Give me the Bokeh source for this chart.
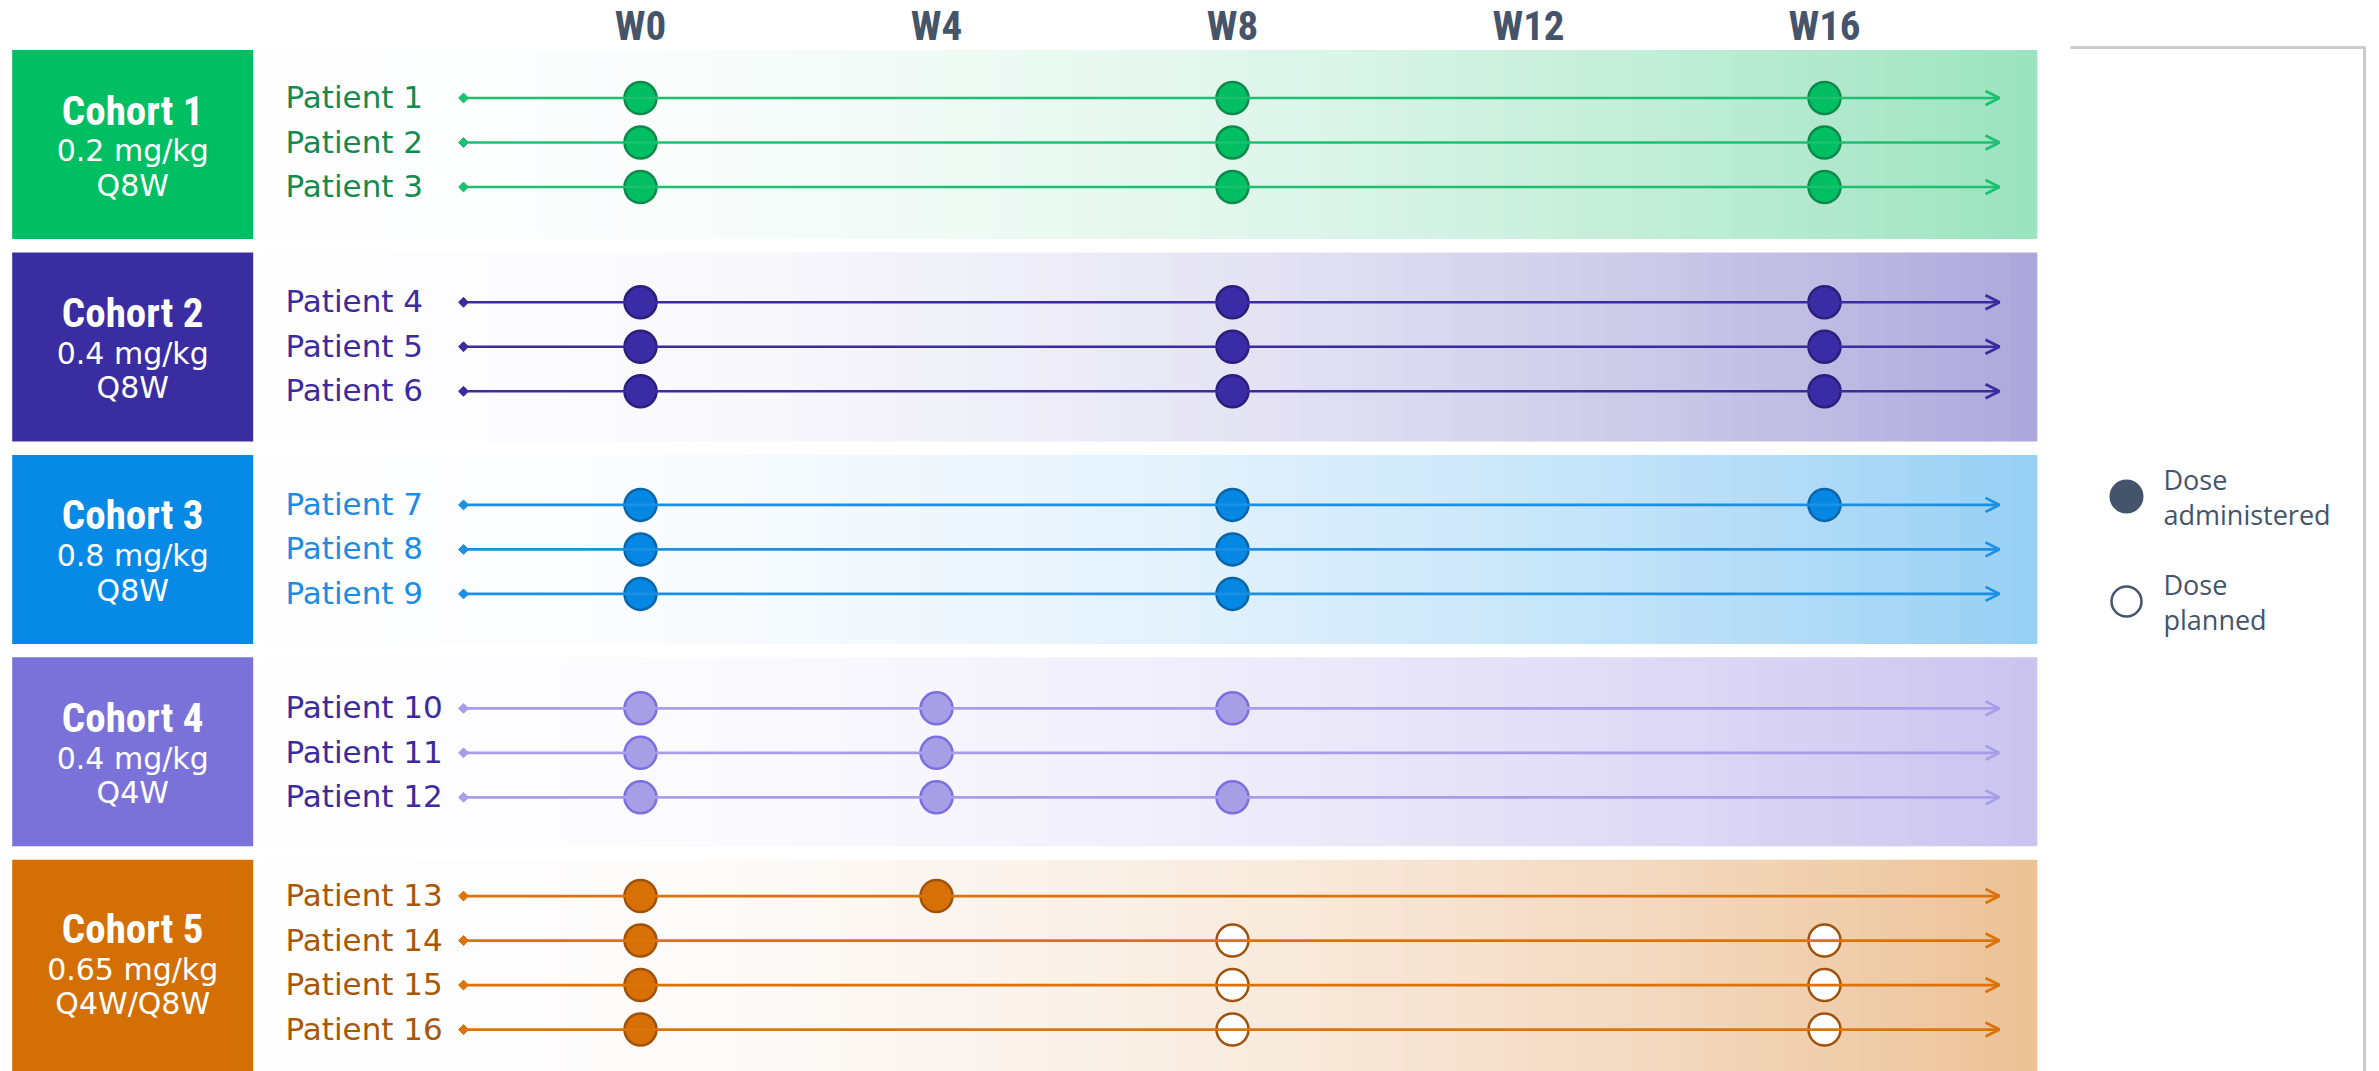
import numpy as np
from bokeh.plotting import figure
from bokeh.models import Range1d, ColumnDataSource, Arrow, OpenHead
from bokeh.core.properties import value
from bokeh.embed import file_html
from bokeh.resources import INLINE

# ------------------------------------------------------------------ data
week_ticks = [0, 4, 8, 12, 16]
week_labels = ["W0", "W4", "W8", "W12", "W16"]

cohort_names = ["Cohort 1", "Cohort 2", "Cohort 3", "Cohort 4", "Cohort 5"]
cohort_doses = ["0.2 mg/kg", "0.4 mg/kg", "0.8 mg/kg", "0.4 mg/kg", "0.65 mg/kg"]
cohort_schedules = ["Q8W", "Q8W", "Q8W", "Q4W", "Q4W/Q8W"]

cohort_patients = [
    ["Patient 1", "Patient 2", "Patient 3"],
    ["Patient 4", "Patient 5", "Patient 6"],
    ["Patient 7", "Patient 8", "Patient 9"],
    ["Patient 10", "Patient 11", "Patient 12"],
    ["Patient 13", "Patient 14", "Patient 15", "Patient 16"],
]

# weeks at which a dose was administered
doses_administered = {
    "Patient 1": [0, 8, 16], "Patient 2": [0, 8, 16], "Patient 3": [0, 8, 16],
    "Patient 4": [0, 8, 16], "Patient 5": [0, 8, 16], "Patient 6": [0, 8, 16],
    "Patient 7": [0, 8, 16], "Patient 8": [0, 8], "Patient 9": [0, 8],
    "Patient 10": [0, 4, 8], "Patient 11": [0, 4], "Patient 12": [0, 4, 8],
    "Patient 13": [0, 4], "Patient 14": [0], "Patient 15": [0], "Patient 16": [0],
}
# weeks at which a dose is planned
doses_planned = {
    "Patient 14": [8, 16], "Patient 15": [8, 16], "Patient 16": [8, 16],
}

legend_lines = [["Dose", "administered"], ["Dose", "planned"]]

# ------------------------------------------------------------------ styles
box_colors = ["#00bf63", "#3a2da2", "#078ae6", "#7b72d9", "#d46f06"]
label_colors = ["#138a50", "#3a2ca0", "#1a8ce3", "#3a2ca0", "#a65708"]
line_colors = ["#1dc070", "#3a2ca0", "#1a8fe3", "#a79ee9", "#db7309"]
dot_fill = ["#00bf63", "#3a2ca6", "#0588e4", "#a79fe6", "#d77007"]
dot_line = ["#0d8a4a", "#2a1f7a", "#0a65a8", "#7a6fe0", "#a0520a"]
panel_end = ["#9be3bf", "#aca7da", "#97cff4", "#cac3ef", "#ecc196"]
slate = "#44546a"

W = 2379
H = 1071
W0_PX = 640.0
PX_PER_WEEK = 74.0


def wx(px):
    """layout pixel -> week coordinate"""
    return (px - W0_PX) / PX_PER_WEEK


p = figure(width=W, height=H, x_range=Range1d(wx(0), wx(W)), y_range=Range1d(H, 0),
           output_backend="svg", toolbar_location=None, min_border=0)
p.axis.visible = False
p.grid.visible = False
p.outline_line_color = None
p.background_fill_color = "white"
p.border_fill_color = "white"

TITLE_FONT = value("'Roboto Condensed', Roboto, sans-serif")
BODY_FONT = value("DejaVu Sans")
LEGEND_FONT = value("Open Sans")

box_top0 = 49.5
box_pitch = 202.45
box_h = [189, 189, 189, 189, 240]
mid_off = [92.5, 94.3, 94.5, 95.5, 103.0]
row_gap = 44.5


def hex2rgb(h):
    h = h.lstrip("#")
    return np.array([int(h[i:i + 2], 16) for i in (0, 2, 4)], dtype=float)


n_slices = 70
pl, pr = 260.0, 2036.0
edges = np.linspace(pl, pr, n_slices + 1)

for i, name in enumerate(cohort_names):
    top = box_top0 + i * box_pitch
    bot = top + box_h[i]
    mid = top + mid_off[i]
    bmid = top + (94.5 if i < 4 else 103.0)

    # gradient panel
    t = ((edges[:-1] + edges[1:]) / 2 - pl) / (pr - pl)
    end = hex2rgb(panel_end[i])
    white = np.array([254.0, 254.0, 255.0])
    cols = []
    for tt in t:
        c = white + (tt ** 2) * (end - white)
        cols.append("#%02x%02x%02x" % tuple(int(round(v)) for v in c))
    lefts = [wx(e) for e in edges[:-1]]
    rights = [wx(e + 0.8) for e in edges[1:]]
    p.quad(left=lefts, right=rights, top=[top] * n_slices, bottom=[bot] * n_slices,
           fill_color=cols, line_color=None)

    # cohort box
    p.quad(left=[wx(11.7)], right=[wx(252.7)], top=[top], bottom=[bot],
           fill_color=box_colors[i], line_color=None)
    cx = wx(132.2)
    p.text(x=[cx], y=[bmid - 34], text=[name], text_font=TITLE_FONT, text_font_style="bold",
           text_font_size="41px", text_color="white", text_align="center", text_baseline="middle")
    p.text(x=[cx], y=[bmid + 6.3], text=[cohort_doses[i]], text_font=BODY_FONT,
           text_font_size="30px", text_color="white", text_align="center", text_baseline="middle")
    p.text(x=[cx], y=[bmid + 41], text=[cohort_schedules[i]], text_font=BODY_FONT,
           text_font_size="30px", text_color="white", text_align="center", text_baseline="middle")

    pats = cohort_patients[i]
    n = len(pats)
    ys = [mid + (k - (n - 1) / 2) * row_gap for k in range(n)]

    # patient labels
    p.text(x=[wx(285)] * n, y=[y - 1 for y in ys], text=pats, text_font=BODY_FONT,
           text_font_size="31px", text_color=label_colors[i], text_align="left",
           text_baseline="middle")

    # timelines with arrows
    src = ColumnDataSource(dict(x0=[wx(463)] * n, x1=[wx(1999)] * n, y=ys))
    p.add_layout(Arrow(source=src, x_start="x0", y_start="y", x_end="x1", y_end="y",
                       line_color=line_colors[i], line_width=2.7,
                       end=OpenHead(size=14, line_color=line_colors[i], line_width=2.7)))
    p.scatter(x=[wx(463)] * n, y=ys, marker="square", angle=np.pi / 4, size=7,
              fill_color=line_colors[i], line_color=line_colors[i])

    # doses
    ax, ay, qx, qy = [], [], [], []
    for pat, y in zip(pats, ys):
        for w in doses_administered.get(pat, []):
            ax.append(w); ay.append(y)
        for w in doses_planned.get(pat, []):
            qx.append(w); qy.append(y)
    p.scatter(x=ax, y=ay, size=32, fill_color=dot_fill[i], line_color=dot_line[i], line_width=2.5)
    if qx:
        p.scatter(x=qx, y=qy, size=32, fill_color="white", line_color=dot_line[i], line_width=2.5)

# week header
p.text(x=week_ticks, y=[25.5] * len(week_ticks), text=week_labels, text_font=TITLE_FONT,
       text_font_style="bold", text_font_size="41px", text_color=slate,
       text_align="center", text_baseline="middle")

# legend bracket
p.line(x=[wx(2070), wx(2364), wx(2364)], y=[47, 47, H + 10], line_color="#cccccc", line_width=3)

# legend
leg_y = [496, 601]
p.scatter(x=[wx(2126)], y=[leg_y[0]], size=32, fill_color=slate, line_color=slate, line_width=2)
p.scatter(x=[wx(2126)], y=[leg_y[1]], size=30, fill_color="white", line_color=slate, line_width=2.5)
for (l1, l2), y in zip(legend_lines, leg_y):
    p.text(x=[wx(2163)] * 2, y=[y - 17, y + 17.5], text=[l1, l2], text_font=LEGEND_FONT,
           text_font_size="27px", text_color=slate, text_align="left", text_baseline="middle")

open("out.html", "w").write(file_html(p, INLINE))
